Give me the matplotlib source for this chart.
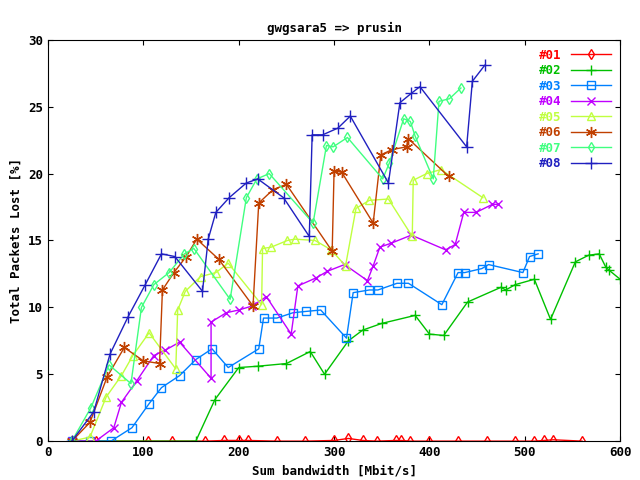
import matplotlib
matplotlib.use('Agg')
import matplotlib.pyplot as plt

x01 = [25, 50, 105, 130, 165, 185, 200, 210, 240, 270, 300, 315, 330, 345, 365, 370, 380, 400, 430, 460, 490, 510, 520, 530, 560]
y01 = [0, 0, 0, 0, 0, 0.05, 0.05, 0.05, 0, 0, 0.05, 0.2, 0.05, 0, 0.05, 0.05, 0, 0, 0, 0, 0, 0, 0.05, 0.1, 0]
x02 = [25, 155, 175, 200, 220, 250, 275, 290, 315, 330, 350, 385, 400, 415, 440, 475, 480, 490, 510, 527, 553, 567, 578, 585, 588, 600]
y02 = [0, 0, 3.1, 5.5, 5.6, 5.8, 6.7, 5.0, 7.5, 8.3, 8.8, 9.4, 8.0, 7.9, 10.4, 11.5, 11.3, 11.7, 12.1, 9.1, 13.4, 13.9, 14.0, 13.0, 12.8, 12.1]
x03 = [25, 44, 66, 88, 106, 119, 138, 155, 172, 189, 221, 226, 240, 257, 271, 286, 313, 320, 337, 346, 366, 378, 413, 430, 437, 455, 462, 498, 505, 514]
y03 = [0, 0, 0, 1.0, 2.8, 4.0, 4.9, 6.1, 6.9, 5.5, 6.9, 9.2, 9.2, 9.6, 9.7, 9.8, 7.7, 11.1, 11.3, 11.3, 11.8, 11.8, 10.2, 12.6, 12.6, 12.9, 13.2, 12.6, 13.8, 14.0]
x04 = [25, 50, 69, 77, 93, 111, 123, 138, 171, 171, 187, 200, 214, 229, 255, 262, 281, 293, 311, 335, 341, 348, 360, 381, 417, 427, 436, 449, 466, 472]
y04 = [0, 0, 1.0, 2.9, 4.5, 6.4, 6.8, 7.4, 4.7, 8.9, 9.6, 9.8, 10.1, 10.8, 8.0, 11.6, 12.2, 12.7, 13.2, 12.0, 13.1, 14.5, 14.8, 15.4, 14.3, 14.7, 17.1, 17.1, 17.7, 17.7]
x05 = [25, 44, 61, 77, 89, 106, 134, 136, 144, 160, 176, 189, 224, 225, 234, 251, 259, 280, 297, 312, 323, 337, 357, 382, 383, 397, 412, 456]
y05 = [0, 0.3, 3.3, 4.9, 6.4, 8.1, 5.4, 9.8, 11.2, 12.3, 12.6, 13.3, 10.2, 14.4, 14.5, 15.0, 15.1, 15.0, 14.3, 13.1, 17.4, 18.0, 18.1, 15.3, 19.5, 20.0, 20.3, 18.2]
x06 = [25, 44, 62, 80, 100, 117, 120, 132, 145, 156, 179, 215, 221, 236, 250, 298, 300, 308, 341, 349, 361, 376, 378, 420]
y06 = [0, 1.4, 4.8, 7.0, 6.0, 5.8, 11.3, 12.6, 13.8, 15.1, 13.6, 10.1, 17.8, 18.8, 19.2, 14.2, 20.2, 20.1, 16.3, 21.4, 21.8, 22.0, 22.6, 19.8]
x07 = [25, 45, 64, 87, 98, 111, 127, 143, 153, 191, 208, 219, 232, 278, 292, 299, 314, 351, 358, 373, 380, 385, 404, 410, 421, 433]
y07 = [0, 2.5, 5.7, 4.3, 10.0, 11.7, 12.6, 14.0, 14.4, 10.6, 18.2, 19.6, 20.0, 16.3, 22.1, 22.0, 22.7, 19.6, 20.8, 24.1, 23.9, 22.8, 19.6, 25.4, 25.6, 26.4]
x08 = [25, 48, 65, 84, 102, 119, 133, 162, 168, 176, 190, 208, 220, 247, 274, 277, 288, 304, 317, 357, 369, 381, 390, 439, 445, 458]
y08 = [0, 2.2, 6.5, 9.3, 11.7, 14.0, 13.8, 11.2, 15.1, 17.1, 18.2, 19.3, 19.6, 18.2, 15.3, 22.9, 22.9, 23.4, 24.3, 19.3, 25.3, 26.0, 26.5, 22.0, 26.9, 28.1]

series = [
    ('#01', x01, y01, '#ff0000', 'd', 5),
    ('#02', x02, y02, '#00c000', '+', 7),
    ('#03', x03, y03, '#0080ff', 's', 5.5),
    ('#04', x04, y04, '#c000ff', 'x', 6),
    ('#05', x05, y05, '#c0ff40', '^', 6),
    ('#06', x06, y06, '#c04000', (6, 2, 0), 8),
    ('#07', x07, y07, '#40ff80', 'd', 5),
    ('#08', x08, y08, '#2020c0', '+', 8),
]

plt.rcParams['font.family'] = 'DejaVu Sans Mono'
fig = plt.figure(figsize=(6.4, 4.8), dpi=100)
ax = fig.add_axes([0.075, 0.081, 0.894, 0.836])
for name, xs, ys, c, m, ms in series:
    ax.plot(xs, ys, color=c, marker=m, markersize=ms, markerfacecolor='none',
            markeredgecolor=c, markeredgewidth=1, linewidth=1, label=name)

ax.set_xlim(0, 600)
ax.set_ylim(0, 30)
ax.set_xticks(range(0, 601, 100))
ax.set_yticks(range(0, 31, 5))
ax.tick_params(direction='in', top=True, right=True, labelsize=9)
ax.set_title('gwgsara5 => prusin', fontsize=9, fontweight='bold')
ax.set_xlabel('Sum bandwidth [Mbit/s]', fontsize=9, fontweight='bold')
ax.set_ylabel('Total Packets Lost [%]', fontsize=9, fontweight='bold')
for lab in ax.get_xticklabels() + ax.get_yticklabels():
    lab.set_fontweight('bold')
leg = ax.legend(loc='upper right', frameon=False, fontsize=9, handlelength=3.2,
                markerfirst=False, labelspacing=0.2, borderaxespad=0.3)
for txt, s in zip(leg.get_texts(), series):
    txt.set_color(s[3])
    txt.set_fontweight('bold')

fig.savefig('out.png', dpi=100)
